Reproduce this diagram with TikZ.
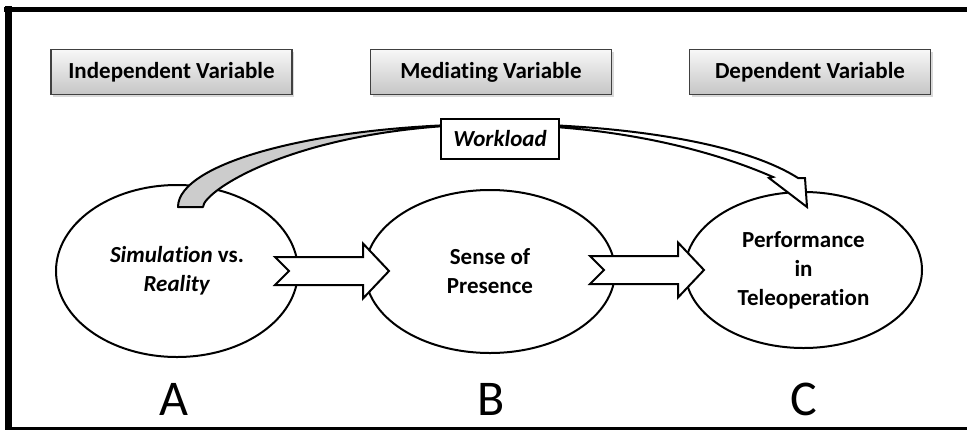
\documentclass[tikz,border=0pt]{standalone}
\usepackage{fontspec}
\setmainfont[Ligatures=NoCommon]{Carlito}
\usetikzlibrary{shapes.geometric,shadows}

\begin{document}
\begin{tikzpicture}[x=1pt,y=-1pt,
  header/.style={draw=black!75, line width=1.2pt, top color=gray!6, bottom color=gray!45,
    minimum width=241pt, minimum height=45pt, inner sep=0pt,
    font=\fontsize{23}{28}\selectfont\bfseries,
    drop shadow={shadow xshift=2pt, shadow yshift=-2.5pt, opacity=0.3}},
  stage/.style={ellipse, draw=black, line width=2pt, fill=white, inner sep=0pt,
    align=center, font=\fontsize{23}{29}\selectfont\bfseries},
  letter/.style={font=\fontsize{50}{50}\selectfont, inner sep=0pt, anchor=base},
  band/.style={draw=black, line width=2pt, line join=round},
  frame/.style={draw=black, line cap=butt},
  fatarrow/.pic={
    \draw[draw=black, fill=white, line width=2pt, line join=miter]
      (0,-14) -- (88,-14) -- (88,-27.5) -- (114,0) -- (88,27.5)
      -- (88,14) -- (0,14) -- (14,0) -- cycle;}
]
\useasboundingbox (0,0) rectangle (967,432);

% outer frame (open on the right)
\draw[frame, line width=5pt] (4,9.5) -- (967,9.5);
\draw[frame, line width=7pt] (8.5,6) -- (8.5,430);
\draw[frame, line width=3pt] (5,428.5) -- (967,428.5);

% variable headers
\node[header] (hi) at (171.5,72) {Independent Variable};
\node[header] (hm) at (491,72) {Mediating Variable};
\node[header] (hd) at (810,72) {Dependent Variable};

% the three stages
\node[stage, minimum width=242pt, minimum height=172pt] (A) at (177,271)
  {\textit{Simulation} vs.\\\textit{Reality}};
\node[stage, minimum width=250pt, minimum height=163pt] (B) at (490,271.5)
  {Sense of\\Presence};
\node[stage, minimum width=237pt, minimum height=156pt] (C) at (803.5,270)
  {Performance\\in\\Teleoperation};

% block arrows A -> B -> C
\pic at (275,271) {fatarrow};
\pic at (590,270) {fatarrow};

% curved workload arrow from A over to C: shaded back half, white front half
\draw[band, fill=gray!40]
  (178,207) .. controls (178,162) and (322,124) .. (500,124)
  .. controls (300,125) and (203,191) .. (203,207) -- cycle;
\draw[band, fill=white, line join=miter]
  (500,124) .. controls (600,124) and (735,138) .. (798,178)
  -- (805,178) -- (807,207) -- (769,178) -- (773,177)
  .. controls (700,145) and (600,125) .. (500,125) -- cycle;

\node[draw=black, line width=2pt, fill=white, minimum width=118pt, minimum height=40pt,
  inner sep=0pt, font=\fontsize{23}{28}\selectfont\bfseries\itshape] (W) at (500,139) {Workload};

% stage letters
\node[letter] (la) at (174,415) {A};
\node[letter] (lb) at (491,415) {B};
\node[letter] (lc) at (804,415) {C};
\end{tikzpicture}
\end{document}
